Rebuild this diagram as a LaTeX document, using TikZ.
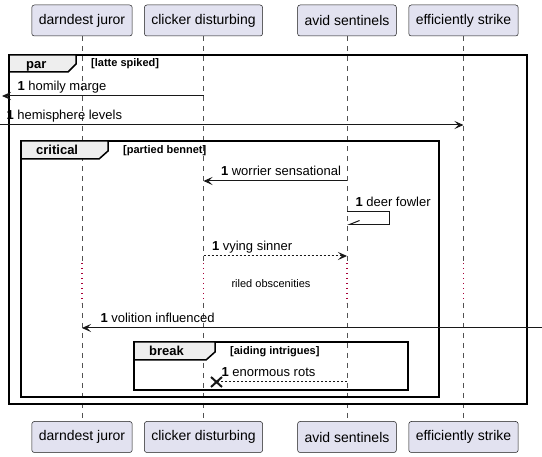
\documentclass[tikz,border=0pt]{standalone}
\usepackage{fontspec}
\setmainfont{Liberation Sans}
\usetikzlibrary{arrows.meta,positioning}

\definecolor{partfill}{HTML}{E2E2F0}
\definecolor{partline}{HTML}{181818}
\definecolor{tabfill}{HTML}{EEEEEE}
\definecolor{delayred}{HTML}{A80036}

\begin{document}
\begin{tikzpicture}[
  x=1pt,y=-1pt,
  node distance=385pt,
  part/.style={draw=partline,fill=partfill,rounded corners=2.5pt,line width=0.5pt,
               minimum height=31pt,inner xsep=7pt,font=\fontsize{14}{16}\selectfont},
  life/.style={draw=partline!75,line width=0.5pt,dash pattern=on 5pt off 5pt},
  wait/.style={draw=delayred,line width=1.3pt,dash pattern=on 1.3pt off 3.7pt},
  frm/.style={draw=black,line width=1.5pt},
  tab/.style={draw=black,line width=1.5pt,fill=tabfill},
  ar/.style={-{Stealth[length=9pt,width=8pt,inset=4pt]},line width=1pt,draw=partline},
  dsh/.style={line width=1pt,draw=partline,dash pattern=on 2pt off 2pt},
  ret/.style={dsh,-{Stealth[length=9pt,width=8pt,inset=4pt]}},
  self/.style={draw=partline,line width=1pt,-{Straight Barb[harpoon,swap,length=10pt,width=8pt]}},
  kill/.style={draw=partline,line width=2pt},
  lbl/.style={anchor=base west,inner sep=0pt,font=\fontsize{13}{15}\selectfont},
  frmlbl/.style={anchor=base west,inner sep=0pt,font=\fontsize{13}{15}\selectfont\bfseries},
  grd/.style={anchor=base west,inner sep=0pt,font=\fontsize{11}{13}\selectfont\bfseries},
  note/.style={inner sep=0pt,font=\fontsize{11}{13}\selectfont}
]
\useasboundingbox (0,0) rectangle (542,457);

% participants
\node[part] (dj) at (82,20.5) {darndest juror};
\node[part] (cd) at (203.5,20.5) {clicker disturbing};
\node[part] (as) at (347,20.5) {avid sentinels};
\node[part] (es) at (463.5,20.5) {efficiently strike};

% lifelines, with the delay
\coordinate (dlA) at (0,263);
\coordinate (dlB) at (0,303);
\foreach \p in {dj,cd,as,es}{
  \draw[life] (\p) -- (\p |- dlA);
  \draw[wait] (\p |- dlA) -- (\p |- dlB);
  \draw[life] (\p |- dlB) -- (\p |- 0,421);
}

% par
\draw[frm] (9,55) rectangle (527,404);
\draw[tab] (9,55) -- (76,55) -- (76,64) -- (68,72) -- (9,72) -- cycle;
\node[frmlbl] (parl) at (26,68.5) {par};
\node[grd] (parg) at (91,67) {[latte spiked]};

% critical
\draw[frm] (21,141) rectangle (439,397);
\draw[tab] (21,141) -- (108,141) -- (108,151) -- (99,159) -- (21,159) -- cycle;
\node[frmlbl] (crl) at (36,155) {critical};
\node[grd] (crg) at (123,153.5) {[partied bennet]};

% break
\draw[frm] (134,342) rectangle (408,390);
\draw[tab] (134,342) -- (215,342) -- (215,352) -- (206,360) -- (134,360) -- cycle;
\node[frmlbl] (brl) at (149,356) {break};
\node[grd] (brg) at (230,354.5) {[aiding intrigues]};

% messages
\coordinate (hm) at (2,96);
\draw[ar] (cd |- hm) -- (hm) node[lbl,at end,xshift=15pt,yshift=5pt] {\textbf{1} homily marge};

\coordinate (hl) at (0,125);
\draw[ar] (hl) -- (es |- hl) node[lbl,at start,xshift=6pt,yshift=5pt] {\textbf{1} hemisphere levels};

\coordinate (ws) at (0,181);
\draw[ar] (as |- ws) -- (cd |- ws) node[lbl,at end,xshift=17pt,yshift=5pt] {\textbf{1} worrier sensational};

\coordinate (df) at (389,212);
\coordinate (df2) at (389,224.5);
\draw[self] (as |- df) node[lbl,xshift=8pt,yshift=5pt] {\textbf{1} deer fowler}
  -- (df) -- (df2) -- (as |- df2);

\coordinate (vs) at (0,256);
\draw[ret] (cd |- vs) -- (as |- vs) node[lbl,at start,xshift=8pt,yshift=5pt] {\textbf{1} vying sinner};

\node[note] (ro) at (271,284) {riled obscenities};

\coordinate (vi) at (542,328);
\draw[ar] (vi) -- (dj |- vi) node[lbl,at end,xshift=18pt,yshift=5pt] {\textbf{1} volition influenced};

\coordinate (xr) at (216.5,382);
\draw[dsh] (as |- xr) -- (xr) node[lbl,at end,xshift=4.5pt,yshift=5pt] {\textbf{1} enormous rots};
\draw[kill] ([shift={(-5.5,-5)}]xr) -- ([shift={(5.5,5)}]xr)
            ([shift={(-5.5,5)}]xr) -- ([shift={(5.5,-5)}]xr);

% participants, foot
\node[part,below=of dj] (dj2) {darndest juror};
\node[part,below=of cd] (cd2) {clicker disturbing};
\node[part,below=of as] (as2) {avid sentinels};
\node[part,below=of es] (es2) {efficiently strike};
\end{tikzpicture}
\end{document}
